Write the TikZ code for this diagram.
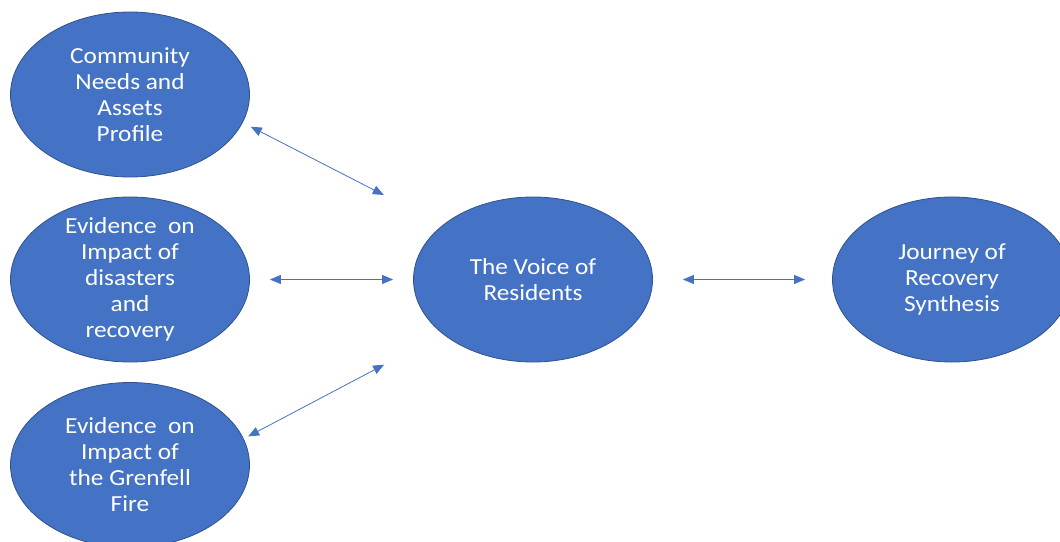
\documentclass[tikz,border=0pt]{standalone}
\usepackage{fontspec}
\setmainfont{Carlito}[FakeStretch=1.1]
\usepackage{xcolor}
\usepackage{tikz}
\usetikzlibrary{positioning,arrows.meta,shapes.geometric}

\definecolor{blobblue}{HTML}{4472C4}
\definecolor{rimblue}{HTML}{2F528F}

\tikzset{
	blob/.style={ellipse, draw=rimblue, line width=0.8pt, fill=blobblue,
		minimum width=239pt, minimum height=165pt, inner sep=0pt},
	blobtext/.style={text=white, align=center, inner sep=0pt,
		font=\fontsize{23}{26}\selectfont},
	link/.style={{Triangle[length=11pt,width=9pt]}-{Triangle[length=11pt,width=9pt]},
		draw=blobblue, line width=0.8pt}
}

\begin{document}
\begin{tikzpicture}[x=1pt, y=-1pt]
		\useasboundingbox (0,0) rectangle (1060,541);

		\node[blob, label={[blobtext]center:Community\\Needs and\\Assets\\Profile}] (cnap) at (130,94.5) {};
		\node[blob, label={[blobtext]center:Evidence~~on\\Impact of\\disasters\\and\\recovery}] (disasters) at (130,279.5) {};
		\node[blob, label={[blobtext]center:Evidence~~on\\Impact of\\the Grenfell\\Fire}] (grenfell) at (130,465) {};
		\node[blob, label={[blobtext]center:The Voice of\\Residents}] (voice) at (533,279.5) {};
		\node[blob, label={[blobtext]center:Journey of\\Recovery\\Synthesis}] (journey) at (952,279.5) {};

		\draw[link, shorten <=9pt, shorten >=66pt] (cnap.-14) -- (voice.149);
		\draw[link, shorten <=20pt, shorten >=20pt] (disasters.east) -- (voice.west);
		\draw[link, shorten <=5pt, shorten >=66pt] (grenfell.13) -- (voice.211);

		\draw[link, shorten <=30pt, shorten >=27pt] (voice.east) -- (journey.west);
	\end{tikzpicture}
\end{document}
